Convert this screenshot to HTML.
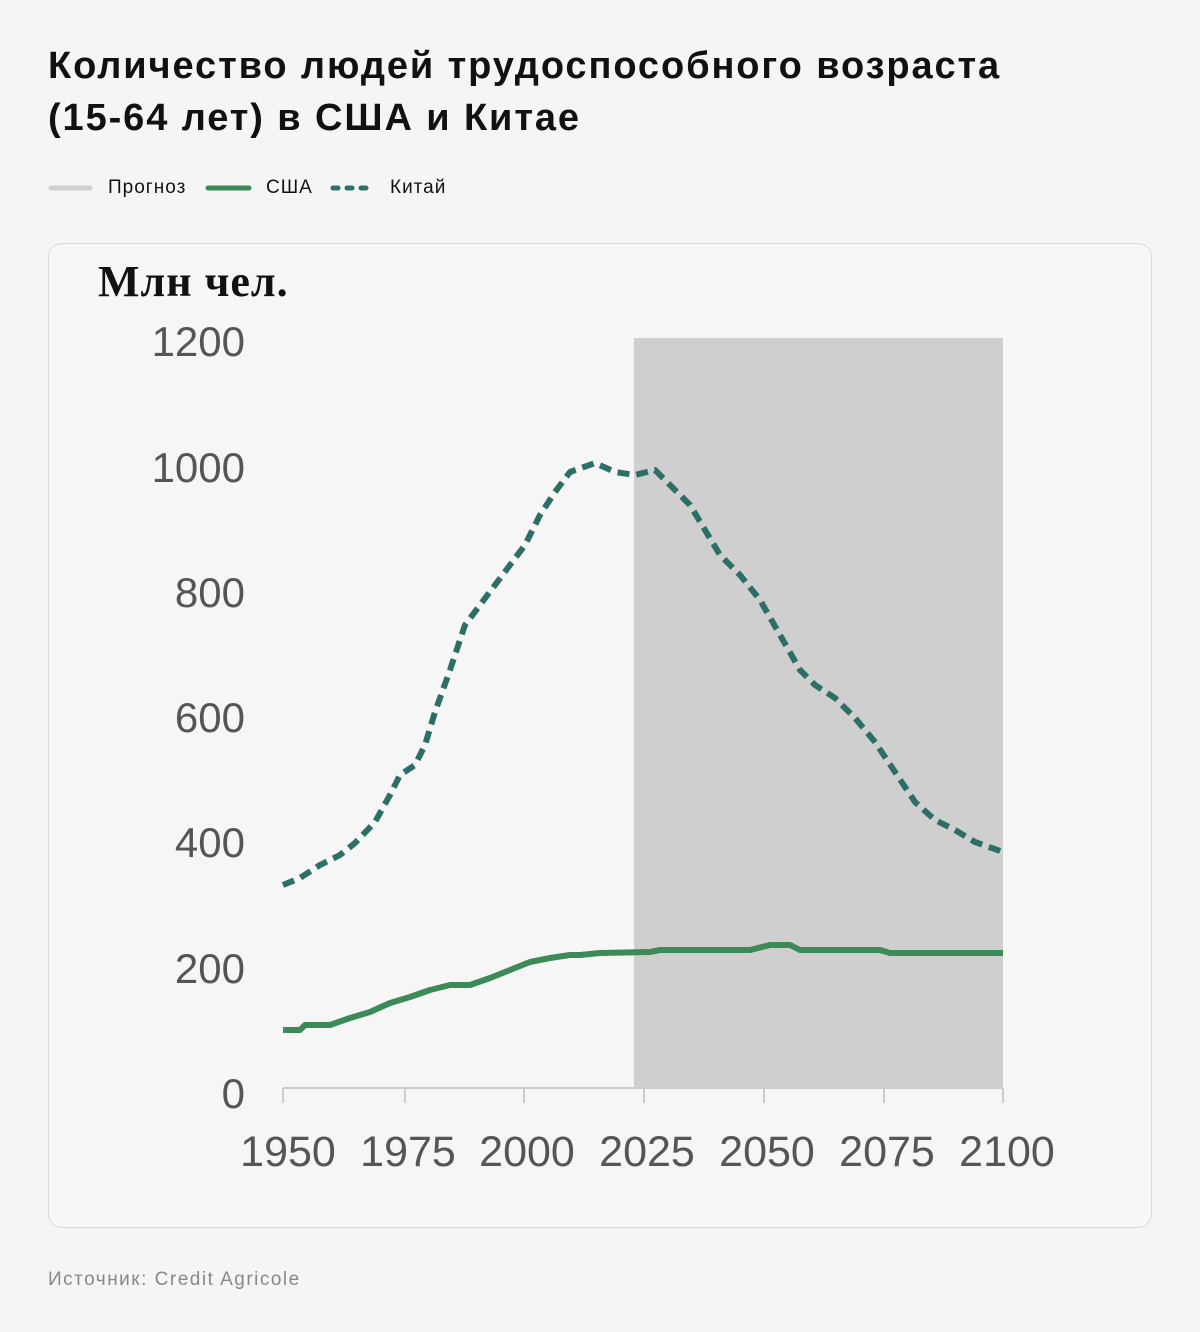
<!DOCTYPE html>
<html><head><meta charset="utf-8"><style>
body{margin:0;width:1200px;height:1332px;background:#f5f5f5;font-family:"Liberation Sans",sans-serif;position:relative;overflow:hidden}
.t{position:absolute;left:48px;top:40px;font-size:38px;font-weight:bold;line-height:52px;color:#111;letter-spacing:1.9px}
.lg{position:absolute;top:177px;font-size:19px;color:#111;letter-spacing:1px}
.card{position:absolute;left:48px;top:243px;width:1102px;height:983px;border:1px solid #d8d8d8;border-radius:14px;background:#f6f6f6}
.src{position:absolute;left:48px;top:1269px;font-size:19px;color:#888;letter-spacing:1.5px}
</style></head><body>
<div class="t">Количество людей трудоспособного возраста<br>(15-64 лет) в США и Китае</div>
<svg style="position:absolute;left:0;top:0" width="500" height="220">
<line x1="51" y1="188" x2="90" y2="188" stroke="#cfcfcf" stroke-width="5" stroke-linecap="round"/>
<line x1="208" y1="188" x2="249" y2="188" stroke="#3b8a57" stroke-width="5" stroke-linecap="round"/>
<line x1="333" y1="188" x2="375" y2="188" stroke="#2d6e67" stroke-width="5" stroke-linecap="round" stroke-dasharray="5 9"/>
</svg>
<div class="lg" style="left:108px">Прогноз</div>
<div class="lg" style="left:266px">США</div>
<div class="lg" style="left:390px">Китай</div>
<div class="card"></div>
<svg style="position:absolute;left:0;top:0" width="1200" height="1240">
<text x="98" y="296" font-family="Liberation Serif,serif" font-weight="bold" font-size="44" letter-spacing="1" fill="#111">Млн чел.</text>
<rect x="634" y="338" width="369" height="750" fill="#cfcfcf"/>
<g font-family="Liberation Sans,sans-serif" font-size="42" fill="#555" text-anchor="end">
<text x="245" y="356">1200</text><text x="245" y="482">1000</text><text x="245" y="607">800</text>
<text x="245" y="732">600</text><text x="245" y="857">400</text><text x="245" y="983">200</text><text x="245" y="1108">0</text>
</g>
<g font-family="Liberation Sans,sans-serif" font-size="43" fill="#555" text-anchor="middle">
<text x="288" y="1166">1950</text><text x="408" y="1166">1975</text><text x="527" y="1166">2000</text>
<text x="647" y="1166">2025</text><text x="767" y="1166">2050</text><text x="887" y="1166">2075</text><text x="1007" y="1166">2100</text>
</g>
<g stroke="#ccc" stroke-width="2"><line x1="283" y1="1088" x2="1003" y2="1088"/>
<line x1="283" y1="1088" x2="283" y2="1103"/><line x1="405" y1="1088" x2="405" y2="1103"/><line x1="524" y1="1088" x2="524" y2="1103"/><line x1="644" y1="1088" x2="644" y2="1103"/><line x1="764" y1="1088" x2="764" y2="1103"/><line x1="884" y1="1088" x2="884" y2="1103"/><line x1="1003" y1="1088" x2="1003" y2="1103"/></g>
<polyline fill="none" stroke="#3b8a57" stroke-width="6" stroke-linejoin="round" points="283,1030 300,1030 305,1025 330,1025 350,1018 370,1012 390,1003 410,997 430,990 450,985 470,985 490,978 510,970 530,962 550,958 570,955 580,955 600,953 650,952 660,950 750,950 770,945 790,945 800,950 880,950 890,953 1003,953"/>
<polyline fill="none" stroke="#2d6e67" stroke-width="6" stroke-dasharray="12 7" stroke-linejoin="round" points="283,885 300,878 320,865 340,855 355,843 375,822 390,795 400,775 415,765 425,745 435,712 450,670 465,625 480,605 495,585 510,565 525,545 540,515 555,492 570,472 595,463 615,472 635,475 655,470 670,485 690,505 705,530 720,555 740,575 760,600 780,635 800,670 815,685 835,698 855,718 875,742 895,772 915,802 935,820 955,830 975,842 1003,852"/>
</svg>
<div class="src">Источник: Credit Agricole</div>
</body></html>
